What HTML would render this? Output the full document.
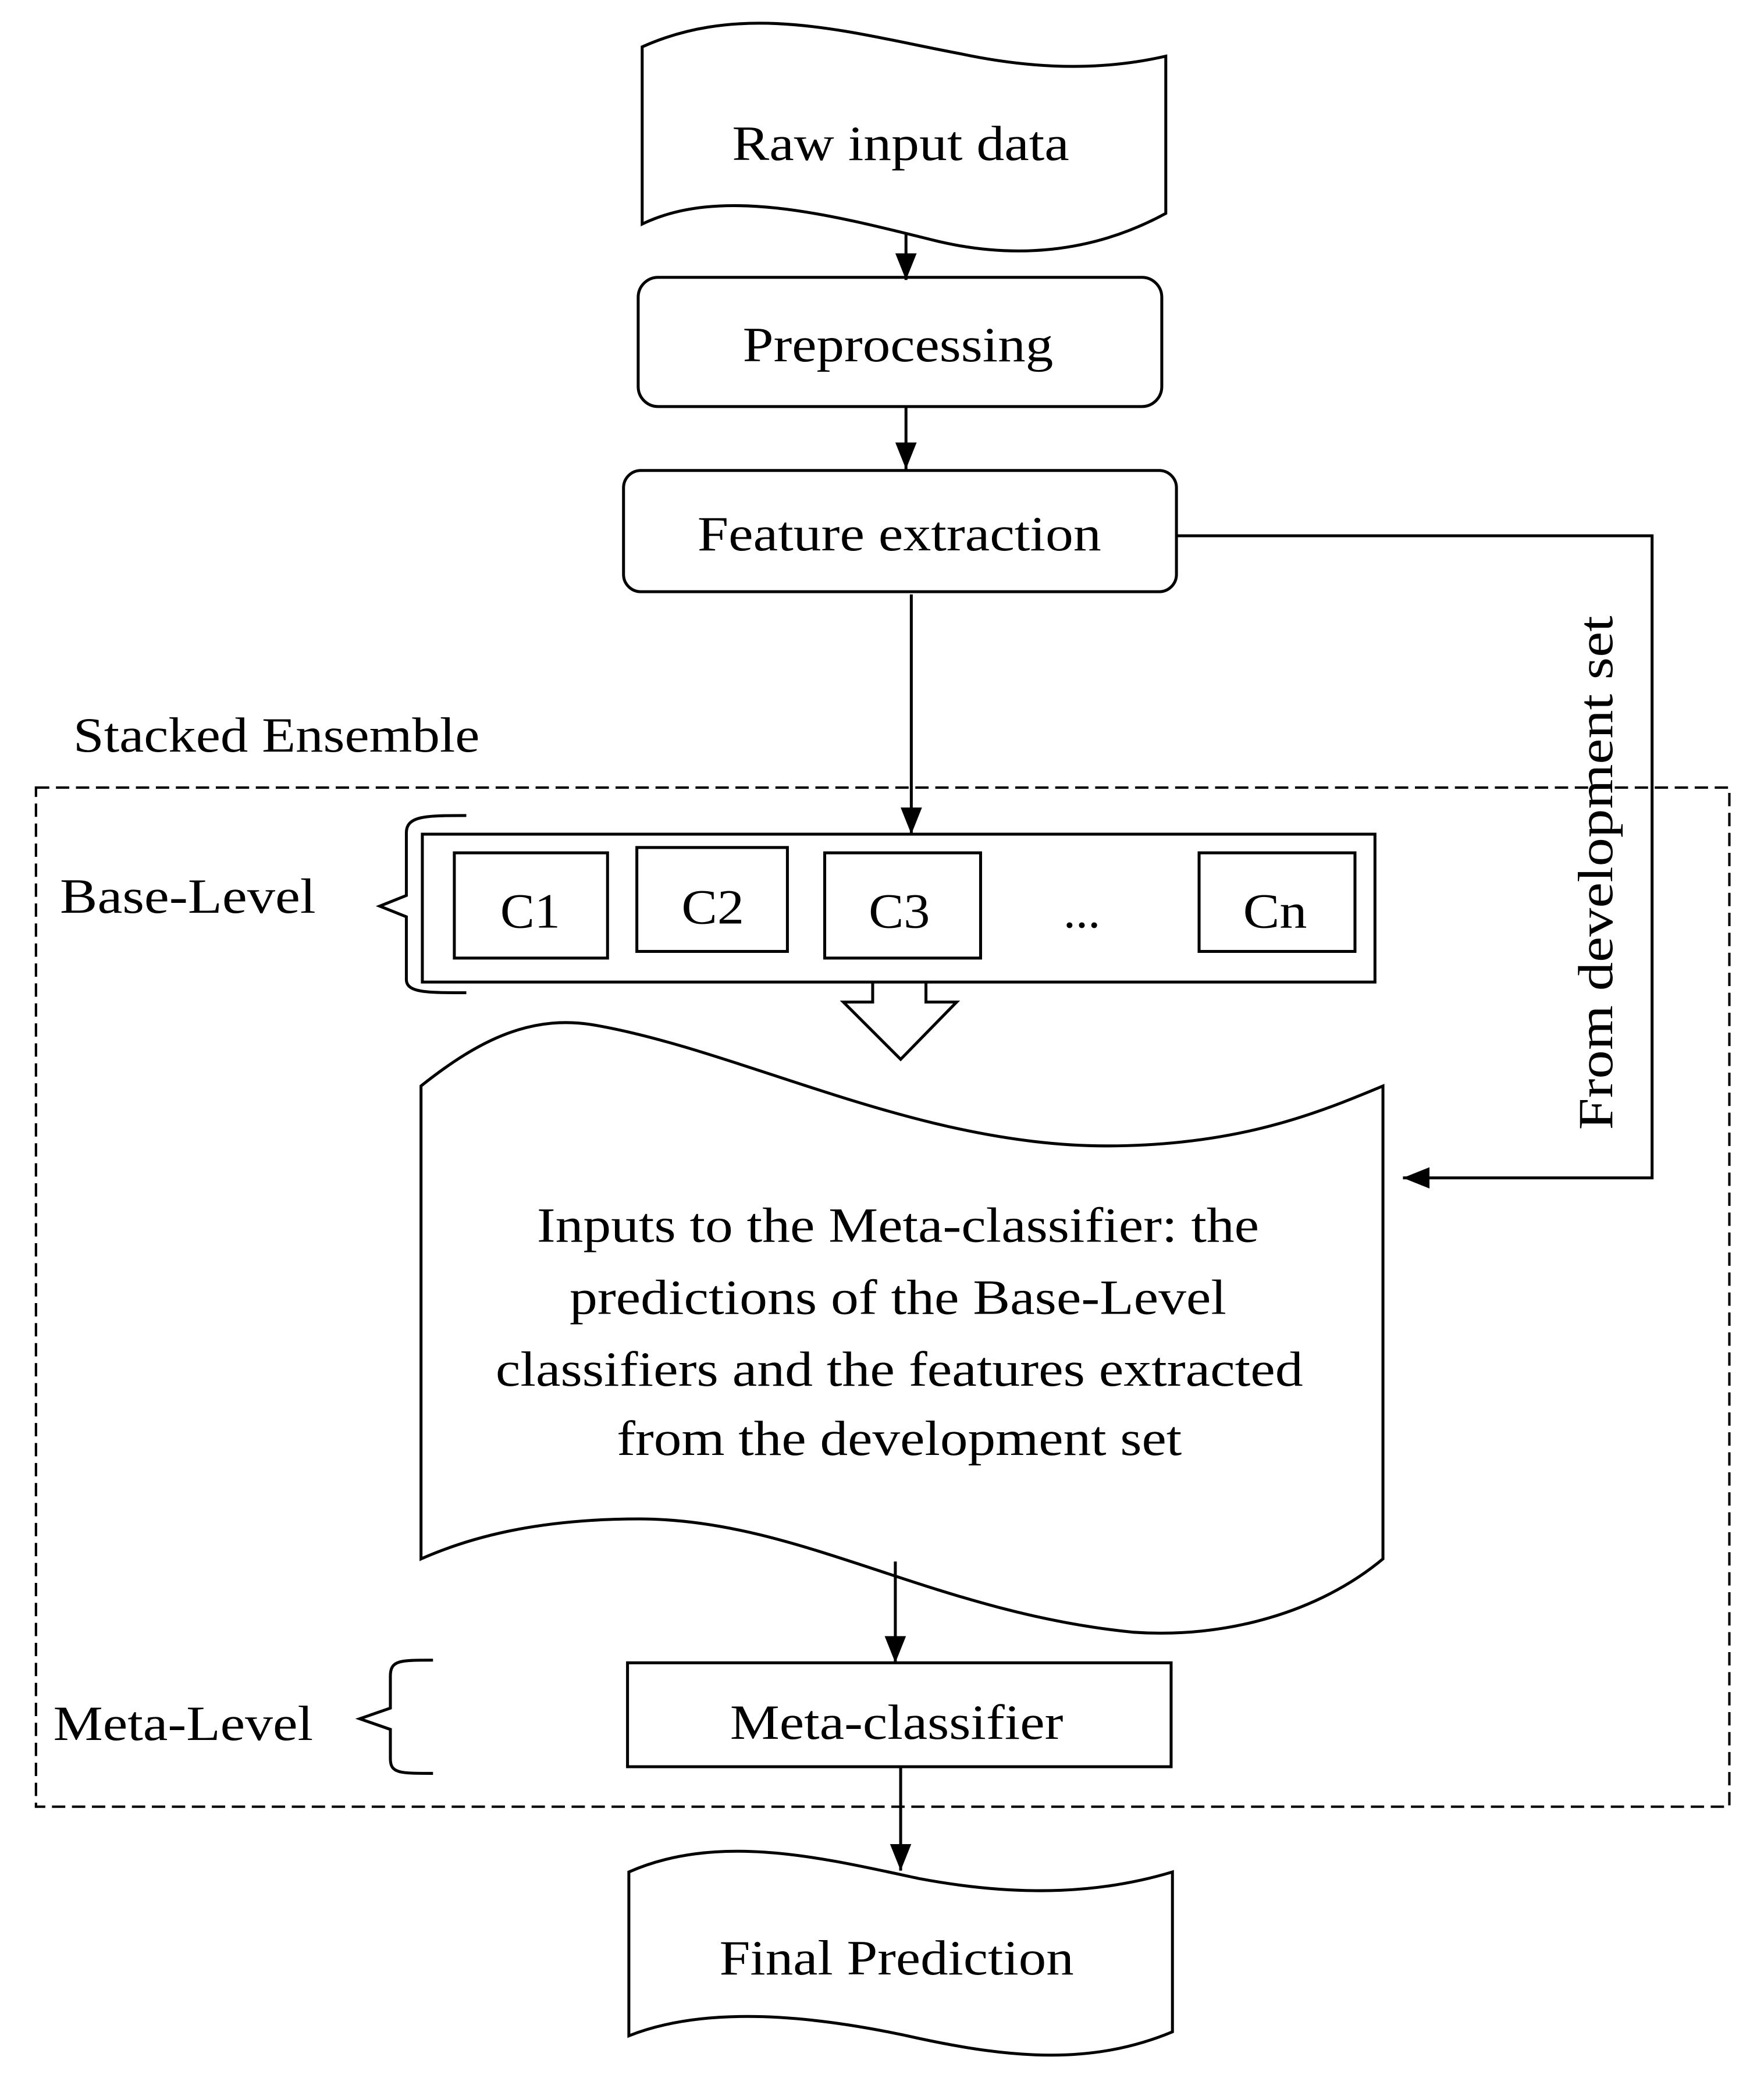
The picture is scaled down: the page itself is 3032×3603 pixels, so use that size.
<!DOCTYPE html>
<html><head><style>html,body{margin:0;padding:0;background:#fff}svg{display:block}</style></head>
<body>
<svg width="3032" height="3603" viewBox="0 0 1324 1573" xmlns="http://www.w3.org/2000/svg" font-family="Liberation Serif, serif" fill="none" stroke="#000" stroke-width="2.2">
<defs><marker id="a" markerWidth="24" markerHeight="20" refX="20" refY="8" orient="auto" markerUnits="userSpaceOnUse"><path d="M0,0 L20,8 L0,16 z" fill="#000" stroke="none"/></marker></defs>
<g font-size="37" fill="#000" stroke="none" text-anchor="middle" lengthAdjust="spacingAndGlyphs">
<text x="676" y="120" textLength="253" lengthAdjust="spacingAndGlyphs">Raw input data</text>
<text x="674" y="271" textLength="233" lengthAdjust="spacingAndGlyphs">Preprocessing</text>
<text x="675" y="413" textLength="303" lengthAdjust="spacingAndGlyphs">Feature extraction</text>
<text x="673" y="1305" textLength="250" lengthAdjust="spacingAndGlyphs">Meta-classifier</text>
<text x="673" y="1482" textLength="266" lengthAdjust="spacingAndGlyphs">Final Prediction</text>
<text x="398" y="696" textLength="45" lengthAdjust="spacingAndGlyphs">C1</text>
<text x="535" y="693" textLength="47" lengthAdjust="spacingAndGlyphs">C2</text>
<text x="675" y="696" textLength="46" lengthAdjust="spacingAndGlyphs">C3</text>
<text x="957" y="696" textLength="48" lengthAdjust="spacingAndGlyphs">Cn</text>
<text x="812" y="696">...</text>
<text x="674" y="932" textLength="542" lengthAdjust="spacingAndGlyphs">Inputs to the Meta-classifier: the</text>
<text x="674" y="986" textLength="493" lengthAdjust="spacingAndGlyphs">predictions of the Base-Level</text>
<text x="675" y="1040" textLength="606" lengthAdjust="spacingAndGlyphs">classifiers and the features extracted</text>
<text x="675" y="1092" textLength="424" lengthAdjust="spacingAndGlyphs">from the development set</text>
<text text-anchor="start" x="55" y="564" textLength="305" lengthAdjust="spacingAndGlyphs">Stacked Ensemble</text>
<text text-anchor="start" x="45" y="685" textLength="192" lengthAdjust="spacingAndGlyphs">Base-Level</text>
<text text-anchor="start" x="40" y="1306" textLength="195" lengthAdjust="spacingAndGlyphs">Meta-Level</text>
<text transform="translate(1210,655) rotate(-90)" textLength="386" lengthAdjust="spacingAndGlyphs">From development set</text>
</g>
<path d="M482,35 C560,0 640,25 720,40 C790,55 840,50 875,42 L875,160 C820,190 760,195 700,180 C620,160 540,140 482,168 Z"/>
<rect x="479" y="208" width="393" height="97" rx="15"/>
<rect x="468" y="353" width="415" height="91" rx="13"/>
<line x1="680" y1="175" x2="680" y2="210" marker-end="url(#a)"/>
<line x1="680" y1="305" x2="680" y2="352" marker-end="url(#a)"/>
<line x1="684" y1="446" x2="684" y2="626" marker-end="url(#a)"/>
<path d="M883,402 H1240 V884 H1053" marker-end="url(#a)"/>
<rect x="27" y="591" width="1271" height="765" stroke-dasharray="10,5" stroke-width="1.8"/>
<rect x="317" y="626" width="715" height="111"/>
<rect x="341" y="640" width="115" height="79"/>
<rect x="478" y="636" width="113" height="78"/>
<rect x="619" y="640" width="117" height="79"/>
<rect x="900" y="640" width="117" height="74"/>
<path d="M350,612 C320,612 305,612 305,625 V672 L285,680 L305,688 V735 C305,745 320,745 350,745"/>
<path d="M325,1246 C300,1246 293,1246 293,1258 V1282 L270,1290 L293,1298 V1320 C293,1331 300,1331 325,1331"/>
<path d="M655,737 V752 H633 L676,795 L718,752 H695 V737"/>
<path d="M316,815 C360,780 400,760 450,770 C560,790 690,860 830,860 C930,860 990,835 1038,815 L1038,1170 C990,1210 920,1230 850,1225 C700,1210 600,1140 480,1140 C400,1140 350,1155 316,1170 Z"/>
<line x1="672" y1="1172" x2="672" y2="1248" marker-end="url(#a)"/>
<rect x="471" y="1248" width="408" height="78"/>
<line x1="676" y1="1326" x2="676" y2="1404" marker-end="url(#a)"/>
<path d="M472,1405 C540,1375 620,1395 690,1410 C770,1425 830,1420 880,1405 L880,1525 C820,1550 760,1545 690,1530 C610,1512 530,1505 472,1528 Z"/>
</svg>
</body></html>
